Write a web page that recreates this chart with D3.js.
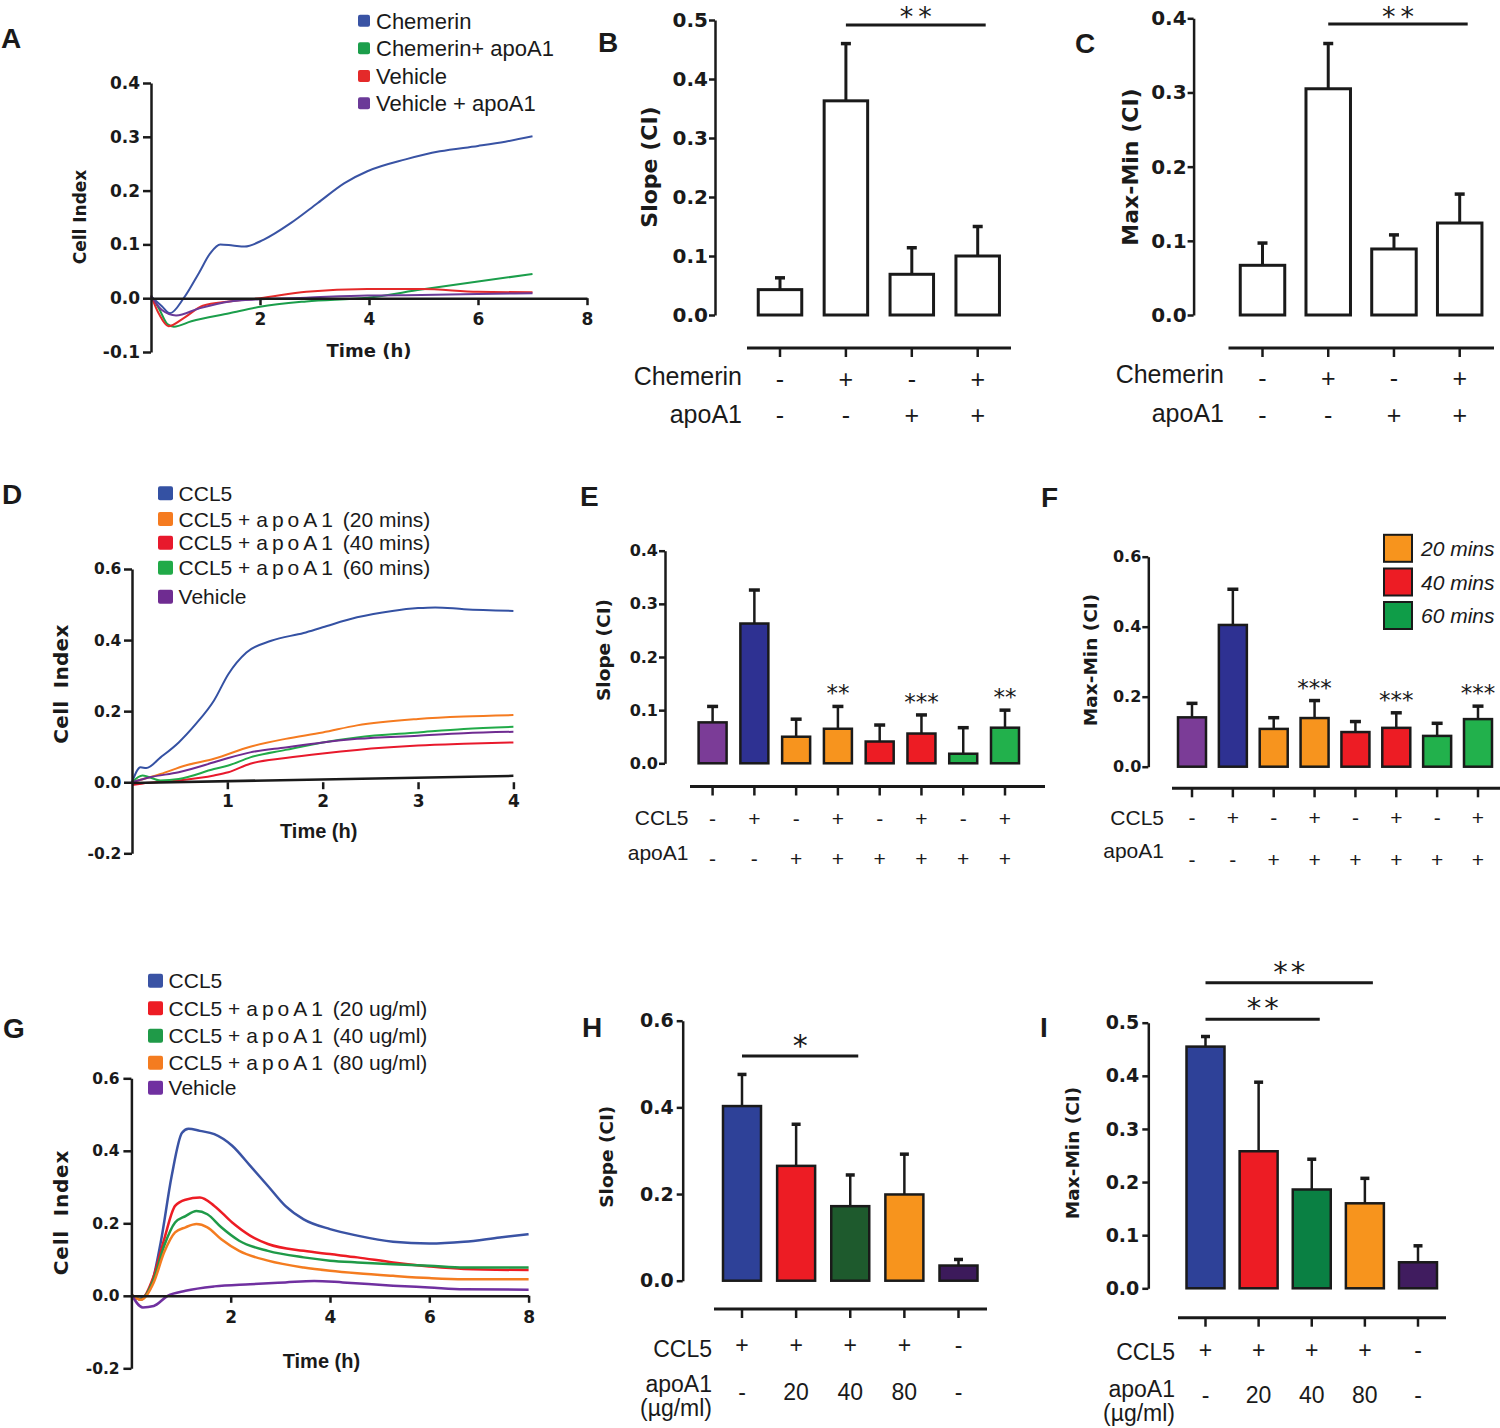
<!DOCTYPE html>
<html><head><meta charset="utf-8">
<script src="https://cdn.jsdelivr.net/npm/d3@7"></script>
<style>
body{margin:0;background:#fff;}
svg{display:block;font-family:"Liberation Sans",Arial,Helvetica,sans-serif;}
</style></head><body>
<svg id="fig" width="1500" height="1428"></svg>
<script>
// ================= DATA =================
// Panel A : Cell Index vs time (h)
const aTicksX = [2, 4, 6, 8];
const aTicksY = [-0.1, 0, 0.1, 0.2, 0.3, 0.4];
const aLegend = ['Chemerin', 'Chemerin+ apoA1', 'Vehicle', 'Vehicle + apoA1'];
const aChemerin = [[0,0.003],[0.2,-0.015],[0.35,-0.028],[0.6,0],[0.88,0.047],[1.09,0.084],[1.27,0.1],[1.5,0.098],[1.72,0.096],[2.07,0.109],[2.57,0.14],[3.06,0.177],[3.55,0.214],[3.97,0.236],[4.67,0.258],[5.3,0.273],[6.0,0.283],[6.5,0.291],[7.0,0.301]];
const aChemApo = [[0,0.005],[0.15,-0.02],[0.3,-0.048],[0.42,-0.053],[0.74,-0.043],[1.44,-0.028],[2.0,-0.016],[2.85,-0.006],[3.97,0.001],[4.96,0.016],[6.0,0.031],[7.0,0.045]];
const aVehicle = [[0,0.005],[0.15,-0.03],[0.32,-0.052],[0.6,-0.037],[0.95,-0.014],[1.44,-0.006],[2.0,0],[2.85,0.012],[3.97,0.017],[4.96,0.017],[6.0,0.012],[7.0,0.011]];
const aVehApo = [[0,0.005],[0.2,-0.022],[0.46,-0.032],[0.88,-0.019],[1.44,-0.006],[2.0,-0.002],[2.85,0.001],[3.97,0.005],[4.96,0.006],[6.0,0.008],[7.0,0.009]];

// Panels B, C
const bcRowLabels = ['Chemerin', 'apoA1'];
const bcChemerin = ['-', '+', '-', '+'];
const bcApoA1 = ['-', '-', '+', '+'];
const bTicks = [0, 0.1, 0.2, 0.3, 0.4, 0.5];
const bSlope = [0.043, 0.363, 0.069, 0.100];
const bSlopeSem = [0.020, 0.097, 0.045, 0.050];
const cTicks = [0, 0.1, 0.2, 0.3, 0.4];
const cMaxMin = [0.067, 0.305, 0.089, 0.124];
const cMaxMinSem = [0.030, 0.061, 0.019, 0.039];

// Panel D
const dTicksX = [1, 2, 3, 4];
const dTicksY = [-0.2, 0, 0.2, 0.4, 0.6];
const dLegend = ['CCL5', 'CCL5 + apoA1 (20 mins)', 'CCL5 + apoA1 (40 mins)', 'CCL5 + apoA1 (60 mins)', 'Vehicle'];
const dCCL5 = [[0,0],[0.09,0.042],[0.15,0.04],[0.3,0.07],[0.49,0.112],[0.67,0.164],[0.86,0.23],[1.01,0.304],[1.2,0.365],[1.46,0.398],[1.8,0.42],[2.0,0.436],[2.36,0.464],[2.73,0.482],[3.0,0.49],[3.18,0.492],[3.48,0.487],[4.0,0.482]];
const dApo20 = [[0,0],[0.3,0.023],[0.56,0.047],[0.86,0.066],[1.24,0.1],[1.61,0.122],[2.0,0.14],[2.36,0.16],[3.0,0.178],[3.48,0.185],[4.0,0.189]];
const dApo40 = [[0,-0.008],[0.1,-0.004],[0.49,0.005],[0.86,0.019],[1.01,0.028],[1.24,0.052],[1.61,0.068],[2.0,0.081],[2.36,0.091],[3.0,0.103],[3.48,0.108],[4.0,0.112]];
const dApo60 = [[0,0],[0.11,0.019],[0.3,0.005],[0.49,0.009],[0.86,0.037],[1.01,0.047],[1.24,0.07],[1.61,0.091],[2.0,0.112],[2.36,0.126],[3.0,0.14],[3.48,0.15],[4.0,0.156]];
const dVehicle = [[0,0],[0.19,0.014],[0.49,0.028],[0.86,0.056],[1.01,0.068],[1.24,0.084],[1.61,0.098],[2.0,0.112],[2.36,0.122],[3.0,0.131],[3.48,0.138],[4.0,0.142]];
const dBaseline = [[0,-0.002],[4,0.018]];

// Panels E, F
const efCCL5 = ['-', '+', '-', '+', '-', '+', '-', '+'];
const efApoA1 = ['-', '-', '+', '+', '+', '+', '+', '+'];
const eTicks = [0, 0.1, 0.2, 0.3, 0.4];
const eSlope = [0.077, 0.263, 0.050, 0.065, 0.041, 0.056, 0.018, 0.067];
const eSlopeSem = [0.030, 0.063, 0.033, 0.042, 0.031, 0.035, 0.049, 0.033];
const eStars = ['', '', '', '**', '', '***', '', '**'];
const fTicks = [0, 0.2, 0.4, 0.6];
const fMaxMin = [0.141, 0.405, 0.108, 0.139, 0.099, 0.111, 0.088, 0.136];
const fMaxMinSem = [0.040, 0.102, 0.032, 0.050, 0.030, 0.043, 0.036, 0.037];
const fStars = ['', '', '', '***', '', '***', '', '***'];
const fLegend = ['20 mins', '40 mins', '60 mins'];

// Panel G
const gTicksX = [2, 4, 6, 8];
const gTicksY = [-0.2, 0, 0.2, 0.4, 0.6];
const gLegend = ['CCL5', 'CCL5 + apoA1 (20 ug/ml)', 'CCL5 + apoA1 (40 ug/ml)', 'CCL5 + apoA1 (80 ug/ml)', 'Vehicle'];
const gCCL5 = [[0,0.003],[0.15,-0.008],[0.37,0.018],[0.59,0.147],[0.81,0.33],[1.02,0.45],[1.15,0.461],[1.38,0.455],[1.67,0.446],[2.03,0.414],[2.39,0.359],[2.75,0.303],[3.1,0.248],[3.47,0.211],[4.0,0.184],[4.55,0.166],[5.27,0.149],[6.0,0.144],[6.7,0.149],[7.42,0.161],[8.0,0.17]];
const gApo20 = [[0,0.003],[0.19,-0.01],[0.45,0.055],[0.66,0.156],[0.88,0.248],[1.09,0.265],[1.38,0.271],[1.67,0.248],[2.03,0.202],[2.39,0.166],[2.75,0.143],[3.47,0.124],[4.0,0.115],[4.55,0.106],[5.27,0.092],[6.0,0.081],[6.7,0.074],[8.0,0.071]];
const gApo40 = [[0,0.003],[0.19,-0.01],[0.45,0.046],[0.66,0.138],[0.88,0.202],[1.09,0.22],[1.31,0.234],[1.53,0.225],[1.81,0.189],[2.17,0.152],[2.75,0.124],[3.47,0.106],[4.0,0.097],[4.55,0.092],[5.27,0.087],[6.0,0.083],[6.7,0.078],[8.0,0.078]];
const gApo80 = [[0,0.003],[0.19,-0.011],[0.45,0.037],[0.66,0.12],[0.88,0.175],[1.09,0.189],[1.31,0.198],[1.53,0.189],[1.81,0.156],[2.17,0.124],[2.75,0.097],[3.47,0.078],[4.0,0.069],[4.55,0.062],[5.27,0.055],[6.0,0.049],[6.7,0.046],[8.0,0.046]];
const gVehicle = [[0,0.003],[0.23,-0.032],[0.45,-0.028],[0.73,0],[1.09,0.014],[1.67,0.026],[2.39,0.032],[3.1,0.037],[3.68,0.041],[4.26,0.037],[5.27,0.028],[6.0,0.023],[6.7,0.018],[8.0,0.017]];

// Panels H, I
const hiCCL5 = ['+', '+', '+', '+', '-'];
const hiApoA1 = ['-', '20', '40', '80', '-'];
const hTicks = [0, 0.2, 0.4, 0.6];
const hSlope = [0.403, 0.265, 0.172, 0.199, 0.035];
const hSlopeSem = [0.073, 0.096, 0.072, 0.093, 0.014];
const iTicks = [0, 0.1, 0.2, 0.3, 0.4, 0.5];
const iMaxMin = [0.455, 0.258, 0.186, 0.160, 0.049];
const iMaxMinSem = [0.019, 0.130, 0.057, 0.047, 0.031];

// ================= DRAWING =================
const INK = '#1a1a1a';
const FONT = '"Liberation Sans", Arial, Helvetica, sans-serif';
const WIDE = '"DejaVu Sans", Verdana, sans-serif';
const svg = d3.select('#fig');
svg.append('rect').attr('width', 1500).attr('height', 1428).attr('fill', '#fff');

function txt(g, x, y, s, o = {}) {
  const t = g.append('text').attr('x', x).attr('y', y).text(s)
    .attr('font-size', o.size || 16).attr('font-weight', o.weight || 'normal')
    .attr('text-anchor', o.anchor || 'start').attr('fill', INK);
  if (o.family) t.attr('font-family', o.family);
  if (o.italic) t.attr('font-style', 'italic');
  if (o.ls) t.attr('letter-spacing', o.ls);
  if (o.ws) t.attr('word-spacing', o.ws);
  if (o.rotate) t.attr('transform', `rotate(-90 ${x} ${y})`);
  return t;
}

function spacedLabel(t, s, ls) {
  const parts = s.split('apoA1');
  if (parts.length < 2) { t.text(s); return; }
  t.append('tspan').text(parts[0]);
  t.append('tspan').attr('letter-spacing', ls).text('apoA1');
  t.append('tspan').text(parts[1]);
}

function yAxisLeft(g, y, x0, ticks, o) {
  const ax = d3.axisLeft(y).tickValues(ticks).tickFormat(d => d.toFixed(1))
    .tickSize(o.tickSize).tickSizeOuter(0).tickPadding(o.pad);
  const ga = g.append('g').attr('transform', `translate(${x0},0)`).call(ax)
    .attr('font-family', WIDE).attr('font-size', o.font);
  ga.select('.domain').attr('stroke', INK).attr('stroke-width', 2.5);
  ga.selectAll('.tick line').attr('stroke', INK).attr('stroke-width', 2.5);
  ga.selectAll('.tick text').attr('font-weight', 'bold').attr('fill', INK);
  return ga;
}

function panelLetter(x, y, s) {
  txt(svg, x, y, s, {size: 28, weight: 'bold'});
}

function lineChart(o) {
  const g = svg.append('g');
  const x = d3.scaleLinear().domain(o.xDomain).range(o.xRange);
  const y = d3.scaleLinear().domain(o.yDomain).range(o.yRange);
  const line = d3.line().x(d => x(d[0])).y(d => y(d[1])).curve(d3.curveMonotoneX);
  o.series.forEach(s => {
    g.append('path').attr('d', line(s.data)).attr('fill', 'none')
      .attr('stroke', s.color).attr('stroke-width', o.lw).attr('stroke-linejoin', 'round');
  });
  yAxisLeft(g, y, o.xRange[0], o.yTicks, {tickSize: 8, pad: o.yPad, font: o.yFont});
  const ax = d3.axisBottom(x).tickValues(o.xTicks).tickFormat(d3.format('d'))
    .tickSize(7).tickSizeOuter(0).tickPadding(o.xPad);
  const gx = g.append('g').attr('transform', `translate(0,${y(0)})`).call(ax)
    .attr('font-family', WIDE).attr('font-size', o.xFont);
  gx.select('.domain').attr('stroke', INK).attr('stroke-width', 2.5);
  gx.selectAll('.tick line').attr('stroke', INK).attr('stroke-width', 2.5);
  gx.selectAll('.tick text').attr('font-weight', 'bold').attr('fill', INK);
  if (o.baseline) {
    gx.select('.domain').remove();
    g.append('path').attr('d', d3.line().x(d => x(d[0])).y(d => y(d[1]))(o.baseline))
      .attr('fill', 'none').attr('stroke', INK).attr('stroke-width', 2.5);
  }
  const yt = o.yTitle;
  txt(g, yt.x, yt.y, yt.text, {size: yt.size, weight: 'bold', anchor: 'middle', rotate: true,
    ls: yt.ls, ws: yt.ws, family: WIDE});
  const xt = o.xTitle;
  txt(g, xt.x, xt.y, xt.text, {size: xt.size, weight: 'bold', anchor: 'middle', family: xt.family});
  const L = o.legend;
  L.items.forEach((it, i) => {
    const cy = L.ys[i];
    g.append('rect').attr('x', L.x).attr('y', cy - L.sh / 2).attr('width', L.sw).attr('height', L.sh)
      .attr('rx', 2).attr('fill', o.series[i].color);
    const t = g.append('text').attr('x', L.tx).attr('y', cy + 0.36 * L.size)
      .attr('font-size', L.size).attr('fill', INK);
    if (L.spaced) spacedLabel(t, it, L.spaced); else t.text(it);
  });
}

function barChart(o) {
  const g = svg.append('g');
  const y = d3.scaleLinear().domain(o.yDomain).range(o.yRange);
  const x = d3.scalePoint().domain(d3.range(o.values.length)).range(o.xRange);
  yAxisLeft(g, y, o.axisX, o.yTicks, {tickSize: 6, pad: o.yPad, font: o.yFont});
  o.values.forEach((v, i) => {
    const cx = x(i), top = y(v + o.sem[i]);
    g.append('line').attr('x1', cx).attr('x2', cx).attr('y1', y(v)).attr('y2', top)
      .attr('stroke', INK).attr('stroke-width', o.esw);
    g.append('line').attr('x1', cx - o.cap / 2).attr('x2', cx + o.cap / 2).attr('y1', top).attr('y2', top)
      .attr('stroke', INK).attr('stroke-width', 3.5);
    g.append('rect').attr('x', cx - o.bw / 2).attr('y', y(v)).attr('width', o.bw).attr('height', y(0) - y(v))
      .attr('fill', o.colors[i]).attr('stroke', INK).attr('stroke-width', o.bsw);
    if (o.stars && o.stars[i]) {
      txt(g, cx + o.starLs / 2, top - 5, o.stars[i],
        {size: o.starSize, anchor: 'middle', ls: o.starLs, family: WIDE});
    }
  });
  // category axis
  const ca = o.catAxis;
  g.append('line').attr('x1', ca.x0).attr('x2', ca.x1).attr('y1', ca.y).attr('y2', ca.y)
    .attr('stroke', INK).attr('stroke-width', 3);
  o.values.forEach((v, i) => {
    g.append('line').attr('x1', x(i)).attr('x2', x(i)).attr('y1', ca.y).attr('y2', ca.y + 9)
      .attr('stroke', INK).attr('stroke-width', 2.5);
  });
  o.rows.forEach(r => {
    r.label.forEach((ln, k) => txt(g, o.rowLabelX, r.labelY + k * r.lineH, ln, {size: o.rowSize, anchor: 'end'}));
    r.signs.forEach((s, i) => txt(g, x(i), r.signY, s, {size: o.signSize, anchor: 'middle'}));
  });
  (o.sig || []).forEach(s => {
    const x1 = x(s.from), x2 = x(s.to) + 8, yy = y(s.at);
    g.append('line').attr('x1', x1).attr('x2', x2).attr('y1', yy).attr('y2', yy)
      .attr('stroke', INK).attr('stroke-width', 3);
    txt(g, (x1 + x2) / 2 + o.sigLs / 2, yy - o.sigGap, s.label,
      {size: o.sigSize, anchor: 'middle', ls: o.sigLs, family: WIDE});
  });
  const yt = o.yTitle;
  txt(g, yt.x, yt.y, yt.text, {size: yt.size, weight: 'bold', anchor: 'middle', rotate: true, family: WIDE});
  return {g, x, y};
}

// ---------- Panel A ----------
panelLetter(1, 48, 'A');
lineChart({
  xDomain: [0, 8], xRange: [151, 587], yDomain: [-0.1, 0.4], yRange: [352, 83],
  xTicks: aTicksX, yTicks: aTicksY, xFont: 17, yFont: 17, xPad: 8, yPad: 3, lw: 2,
  series: [
    {data: aChemerin, color: '#3953a4'},
    {data: aChemApo, color: '#1b9e4b'},
    {data: aVehicle, color: '#e42a2a'},
    {data: aVehApo, color: '#6b3a98'}
  ],
  yTitle: {text: 'Cell Index', x: 86, y: 217, size: 17},
  xTitle: {text: 'Time (h)', x: 369, y: 357, size: 18, family: WIDE},
  legend: {items: aLegend, x: 358, sw: 12, sh: 12, tx: 376, size: 22, ys: [20.7, 48.3, 76, 103.3]}
});

// ---------- Panel B ----------
panelLetter(598, 52, 'B');
barChart({
  yDomain: [0, 0.5], yRange: [315, 20], yTicks: bTicks, axisX: 715, yFont: 20, yPad: 1,
  xRange: [780, 977.7], values: bSlope, sem: bSlopeSem, bw: 43.5, bsw: 3, esw: 3, cap: 10,
  colors: ['#fff', '#fff', '#fff', '#fff'],
  catAxis: {x0: 747, x1: 1011, y: 348},
  rowLabelX: 742, rowSize: 25, signSize: 25,
  rows: [
    {label: [bcRowLabels[0]], labelY: 385, lineH: 0, signs: bcChemerin, signY: 388},
    {label: [bcRowLabels[1]], labelY: 423, lineH: 0, signs: bcApoA1, signY: 424}
  ],
  sig: [{from: 1, to: 3, at: 0.4915, label: '**'}], sigSize: 27, sigLs: 5, sigGap: -1,
  yTitle: {text: 'Slope (CI)', x: 656.7, y: 167, size: 22}
});

// ---------- Panel C ----------
panelLetter(1075, 53, 'C');
barChart({
  yDomain: [0, 0.4], yRange: [315, 18.3], yTicks: cTicks, axisX: 1193.6, yFont: 20, yPad: 1,
  xRange: [1262.5, 1459.7], values: cMaxMin, sem: cMaxMinSem, bw: 44.5, bsw: 3, esw: 3, cap: 10,
  colors: ['#fff', '#fff', '#fff', '#fff'],
  catAxis: {x0: 1228.5, x1: 1494, y: 348},
  rowLabelX: 1224, rowSize: 25, signSize: 25,
  rows: [
    {label: [bcRowLabels[0]], labelY: 383, lineH: 0, signs: bcChemerin, signY: 387},
    {label: [bcRowLabels[1]], labelY: 422, lineH: 0, signs: bcApoA1, signY: 424}
  ],
  sig: [{from: 1, to: 3, at: 0.3923, label: '**'}], sigSize: 27, sigLs: 5, sigGap: -2,
  yTitle: {text: 'Max-Min (CI)', x: 1138.4, y: 167, size: 22}
});

// ---------- Panel D ----------
panelLetter(2, 504, 'D');
lineChart({
  xDomain: [0, 4], xRange: [132, 513.4], yDomain: [-0.2, 0.6], yRange: [853.3, 569],
  xTicks: dTicksX, yTicks: dTicksY, xFont: 17, yFont: 15.5, xPad: 6, yPad: 2.6, lw: 2,
  baseline: dBaseline,
  series: [
    {data: dCCL5, color: '#3451a3'},
    {data: dApo20, color: '#f57b20'},
    {data: dApo40, color: '#e8192c'},
    {data: dApo60, color: '#21aa48'},
    {data: dVehicle, color: '#6f2c91'}
  ],
  yTitle: {text: 'Cell Index', x: 67.9, y: 684, size: 20, ls: 0.3, ws: 5},
  xTitle: {text: 'Time (h)', x: 318.7, y: 838, size: 20},
  legend: {items: dLegend, x: 158, sw: 15, sh: 14, tx: 178.6, size: 21, spaced: 4,
    ys: [493.3, 519, 542.7, 567.7, 596.7]}
});

// ---------- Panel E ----------
panelLetter(580, 506, 'E');
const efColors = ['#7b3c97', '#2e3192', '#f7941e', '#f7941e', '#ed1c24', '#ed1c24', '#22b14c', '#22b14c'];
barChart({
  yDomain: [0, 0.4], yRange: [763.3, 550.7], yTicks: eTicks, axisX: 665, yFont: 16, yPad: 1,
  xRange: [712.6, 1005], values: eSlope, sem: eSlopeSem, bw: 28, bsw: 2.5, esw: 2.5, cap: 11,
  colors: efColors, stars: eStars, starSize: 23, starLs: 0,
  catAxis: {x0: 690, x1: 1045, y: 786.5},
  rowLabelX: 688.5, rowSize: 21, signSize: 21,
  rows: [
    {label: ['CCL5'], labelY: 825, lineH: 0, signs: efCCL5, signY: 826},
    {label: ['apoA1'], labelY: 860, lineH: 0, signs: efApoA1, signY: 866}
  ],
  yTitle: {text: 'Slope (CI)', x: 610.4, y: 650, size: 18.5}
});

// ---------- Panel F ----------
panelLetter(1041, 507, 'F');
barChart({
  yDomain: [0, 0.6], yRange: [766.7, 556.7], yTicks: fTicks, axisX: 1148.3, yFont: 16, yPad: 1,
  xRange: [1192, 1478], values: fMaxMin, sem: fMaxMinSem, bw: 28, bsw: 2.5, esw: 2.5, cap: 11,
  colors: efColors, stars: fStars, starSize: 23, starLs: 0,
  catAxis: {x0: 1172, x1: 1500, y: 788.3},
  rowLabelX: 1164, rowSize: 21, signSize: 21,
  rows: [
    {label: ['CCL5'], labelY: 825, lineH: 0, signs: efCCL5, signY: 825},
    {label: ['apoA1'], labelY: 858, lineH: 0, signs: efApoA1, signY: 867}
  ],
  yTitle: {text: 'Max-Min (CI)', x: 1096.8, y: 660, size: 18.5}
});
// F legend
const fLegColors = ['#f7941d', '#ed1c24', '#0f9d48'];
const fLegYs = [548.3, 582, 615.5];
fLegend.forEach((s, i) => {
  svg.append('rect').attr('x', 1384).attr('y', fLegYs[i] - 13.5).attr('width', 28).attr('height', 27)
    .attr('fill', fLegColors[i]).attr('stroke', INK).attr('stroke-width', 2);
  txt(svg, 1421, fLegYs[i] + 7.5, s, {size: 21, italic: true});
});

// ---------- Panel G ----------
panelLetter(3, 1038, 'G');
lineChart({
  xDomain: [0, 8], xRange: [131.4, 528.6], yDomain: [-0.2, 0.6], yRange: [1368.3, 1078.3],
  xTicks: gTicksX, yTicks: gTicksY, xFont: 17, yFont: 15.5, xPad: 8.5, yPad: 3.8, lw: 2.5,
  series: [
    {data: gCCL5, color: '#3a53a4'},
    {data: gApo20, color: '#ed1c24'},
    {data: gApo40, color: '#1f9a48'},
    {data: gApo80, color: '#f47c20'},
    {data: gVehicle, color: '#7030a0'}
  ],
  yTitle: {text: 'Cell Index', x: 67.9, y: 1212.5, size: 20, ls: 0.8, ws: 6},
  xTitle: {text: 'Time (h)', x: 321.4, y: 1368, size: 20},
  legend: {items: gLegend, x: 148, sw: 15, sh: 14, tx: 168.6, size: 21, spaced: 4,
    ys: [980.7, 1008.3, 1035.7, 1062.7, 1087.7]}
});

// ---------- Panel H ----------
panelLetter(582, 1037, 'H');
barChart({
  yDomain: [0, 0.6], yRange: [1280.7, 1020.7], yTicks: hTicks, axisX: 682.7, yFont: 19, yPad: 3,
  xRange: [742, 958.5], values: hSlope, sem: hSlopeSem, bw: 38, bsw: 2.5, esw: 2.5, cap: 9,
  colors: ['#2e4198', '#ed1c24', '#1e5a2d', '#f7941d', '#3c1a5b'],
  catAxis: {x0: 714, x1: 987, y: 1309},
  rowLabelX: 712, rowSize: 23, signSize: 23,
  rows: [
    {label: ['CCL5'], labelY: 1356.5, lineH: 0, signs: hiCCL5, signY: 1353},
    {label: ['apoA1', '(\u00b5g/ml)'], labelY: 1392, lineH: 23.5, signs: hiApoA1, signY: 1400}
  ],
  sig: [{from: 0, to: 2, at: 0.5186, label: '*'}], sigSize: 30, sigLs: 0, sigGap: 0,
  yTitle: {text: 'Slope (CI)', x: 613.3, y: 1156.7, size: 18.5}
});

// ---------- Panel I ----------
panelLetter(1040, 1037, 'I');
barChart({
  yDomain: [0, 0.5], yRange: [1288.3, 1022.7], yTicks: iTicks, axisX: 1148.3, yFont: 19, yPad: 3,
  xRange: [1205.5, 1418], values: iMaxMin, sem: iMaxMinSem, bw: 38, bsw: 2.5, esw: 2.5, cap: 9,
  colors: ['#2e4198', '#ed1c24', '#0a8043', '#f7941d', '#401c5f'],
  catAxis: {x0: 1178, x1: 1446, y: 1317.7},
  rowLabelX: 1175, rowSize: 23, signSize: 23,
  rows: [
    {label: ['CCL5'], labelY: 1360, lineH: 0, signs: hiCCL5, signY: 1358},
    {label: ['apoA1', '(\u00b5g/ml)'], labelY: 1397, lineH: 24, signs: hiApoA1, signY: 1403}
  ],
  sig: [{from: 0, to: 2, at: 0.5064, label: '**'}, {from: 0, to: 3, at: 0.5753, label: '**'}],
  sigSize: 29, sigLs: 3, sigGap: 1,
  yTitle: {text: 'Max-Min (CI)', x: 1078.8, y: 1153, size: 18.5}
});
</script>
</body></html>
